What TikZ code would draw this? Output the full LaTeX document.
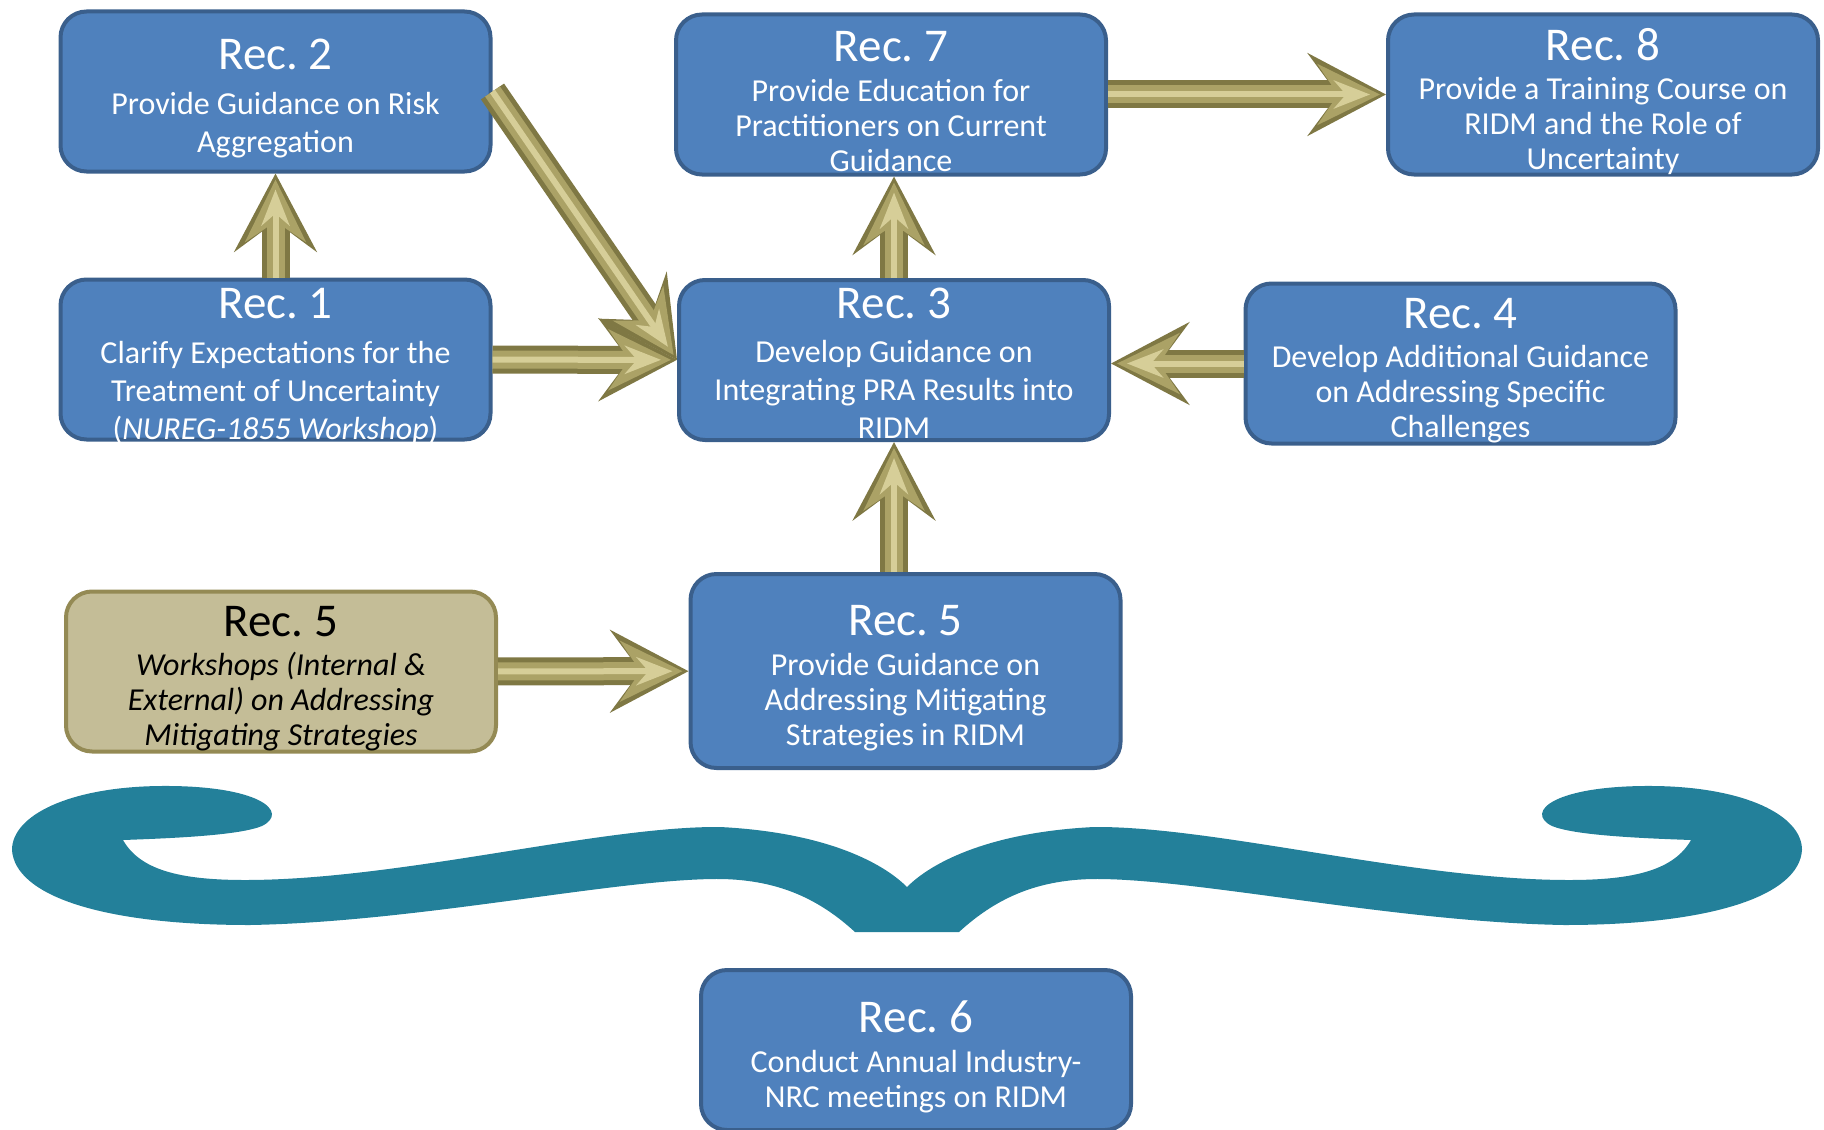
\documentclass[tikz,border=0pt]{standalone}
\usepackage{fontspec}
\setmainfont{Carlito}
\usetikzlibrary{arrows.meta,positioning}
\definecolor{boxblue}{HTML}{4F81BD}
\definecolor{boxedge}{HTML}{3A5F8C}
\definecolor{tanfill}{HTML}{C4BD97}
\definecolor{tanedge}{HTML}{948A54}
\definecolor{arrowdark}{HTML}{7F7844}
\definecolor{arrowmid}{HTML}{ABA266}
\definecolor{arrowlight}{HTML}{D6CE98}
\definecolor{braceteal}{HTML}{23809A}
\tikzset{
  box/.style={rectangle,rounded corners=13pt,draw=boxedge,line width=2pt,
    fill=boxblue,minimum width=215pt,minimum height=80pt,inner sep=0pt},
  wbox/.style={box,fill=tanfill,draw=tanedge},
  txt/.style={align=center,text=white,inner sep=0pt,yshift=-3.5pt,
    font=\fontsize{16}{17.5}\selectfont},
  tall/.style={txt,font=\fontsize{16}{19}\selectfont},
  wtxt/.style={txt,text=black},
  arr/.style={draw=arrowlight,line width=3pt,shorten >=8pt,
    -{Stealth[length=18pt,width=14pt,inset=6pt]},
    preaction={draw=arrowdark,line width=14pt,shorten >=0pt,
      -{Stealth[length=39pt,width=41pt,inset=15pt]}},
    preaction={draw=arrowmid,line width=9pt,shorten >=3pt,
      -{Stealth[length=31pt,width=30pt,inset=10pt]}}},
  brace/.style={fill=braceteal,draw=none},
}
\newcommand{\rec}[2][2.3pt]{{\fontsize{23.5}{23.5}\selectfont Rec.~#2}\\[#1]}
\begin{document}
\begin{tikzpicture}[x=0.5pt,y=-0.5pt]
\useasboundingbox (0,0) rectangle (1824,1129);

\node[box] (r2) at (275.5,91.5) {};
\node[box] (r1) at (275.5,359.5) {};
\node[box] (r7) at (891,94.5) {};
\node[box] (r8) at (1603,94.5) {};
\node[box] (r3) at (894,360) {};
\node[box] (r4) at (1460.5,363.5) {};
\node[wbox] (w5) at (281,671.5) {};
\node[box,minimum height=97pt] (r5) at (905.5,671) {};
\node[box,minimum height=80pt] (r6) at (916,1050) {};

\node[tall] (t2) at (r2) {\rec[3.2pt]{2}Provide Guidance on Risk\\Aggregation};
\node[tall] (t1) at (r1) {\rec[3.2pt]{1}Clarify Expectations for the\\Treatment of Uncertainty\\(\textit{NUREG-1855 Workshop})};
\node[txt] (t7) at (r7) {\rec{7}Provide Education for\\Practitioners on Current\\Guidance};
\node[txt] (t8) at (r8) {\rec{8}Provide a Training Course on\\RIDM and the Role of\\Uncertainty};
\node[tall,yshift=2pt] (t3) at (r3) {\rec[3.2pt]{3}Develop Guidance on\\Integrating PRA Results into\\RIDM};
\node[txt] (t4) at (r4) {\rec{4}Develop Additional Guidance\\on Addressing Specific\\Challenges};
\node[wtxt] (tw5) at (w5) {\rec{5}\textit{Workshops (Internal \&}\\\textit{External) on Addressing}\\\textit{Mitigating Strategies}};
\node[txt] (t5) at (r5) {\rec{5}Provide Guidance on\\Addressing Mitigating\\Strategies in RIDM};
\node[txt] (t6) at (r6) {\rec{6}Conduct Annual Industry-\\NRC meetings on RIDM};

\draw[arr] (r1) -- (r2);
\draw[arr] (r1) -- (r3);
\draw[arr] (r2.east) -- (r3.west);
\draw[arr] (r3.north) -- (r3.north |- r7.south);
\draw[arr] (r7) -- (r8);
\draw[arr] (r4.west) -- (r3.east |- r4.west);
\draw[arr] (r3.south |- r5.north) -- (r3.south);
\draw[arr] (w5) -- (r5);

\fill[brace] (907,887) .. controls (880,860) and (820,832) .. (720,827)
  .. controls (600,826) and (400,880) .. (245,880)
  .. controls (180,880) and (140,870) .. (123,840)
  .. controls (180,838) and (240,835) .. (262,826)
  .. controls (290,812) and (260,785) .. (160,786)
  .. controls (70,787) and (12,815) .. (12,850)
  .. controls (15,895) and (100,925) .. (250,925)
  .. controls (420,922) and (620,878) .. (721,879)
  .. controls (780,880) and (820,900) .. (855,932)
  -- (959,932)
  .. controls (994,900) and (1034,880) .. (1093,879)
  .. controls (1194,878) and (1394,922) .. (1564,925)
  .. controls (1714,925) and (1799,895) .. (1802,850)
  .. controls (1802,815) and (1744,787) .. (1654,786)
  .. controls (1554,785) and (1524,812) .. (1552,826)
  .. controls (1574,835) and (1634,838) .. (1691,840)
  .. controls (1674,870) and (1634,880) .. (1569,880)
  .. controls (1414,880) and (1214,826) .. (1094,827)
  .. controls (994,832) and (934,860) .. (907,887) -- cycle;
\end{tikzpicture}
\end{document}
